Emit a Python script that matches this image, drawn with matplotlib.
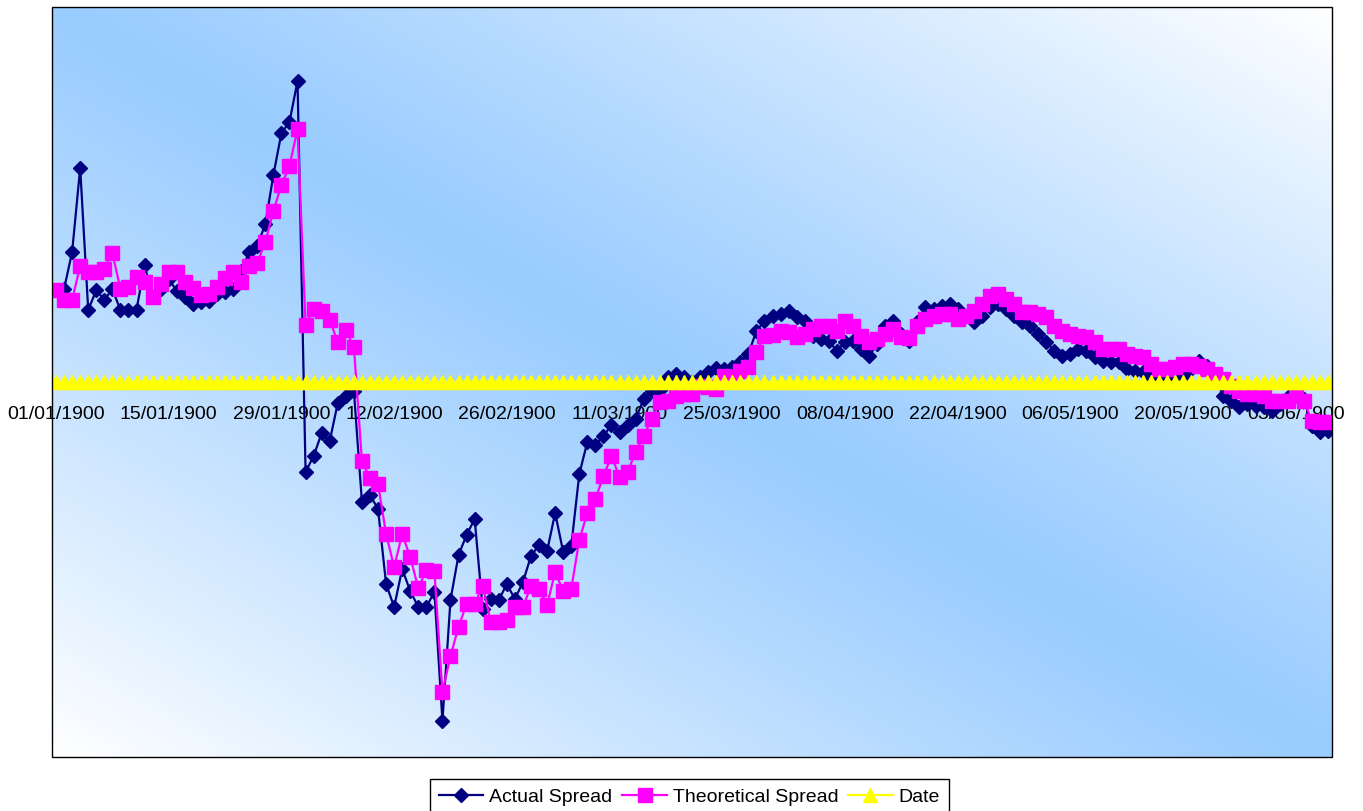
import numpy as np
import matplotlib
matplotlib.use("Agg")
import matplotlib.pyplot as plt
from matplotlib.lines import Line2D
from matplotlib.patches import Rectangle

plt.rcParams['font.family'] = ['Liberation Sans', 'DejaVu Sans']

# daily spread values, first day = 01/01/1900
actual_spread = [
    0.92, 0.93, 1.30, 2.14, 0.72, 0.92, 0.82, 0.93, 0.72, 0.72,
    0.72, 1.17, 0.85, 0.93, 1.03, 0.91, 0.85, 0.78, 0.80, 0.81,
    0.88, 0.90, 0.93, 1.11, 1.30, 1.36, 1.58, 2.07, 2.49, 2.60,
    3.01, -0.90, -0.74, -0.51, -0.59, -0.21, -0.14, -0.09, -1.20, -1.13,
    -1.27, -2.02, -2.25, -1.87, -2.09, -2.25, -2.25, -2.10, -3.39, -2.18,
    -1.73, -1.53, -1.37, -2.27, -2.17, -2.18, -2.02, -2.17, -2.00, -1.74,
    -1.63, -1.69, -1.31, -1.70, -1.64, -0.92, -0.60, -0.63, -0.54, -0.43,
    -0.50, -0.43, -0.37, -0.17, -0.09, -0.08, 0.05, 0.08, 0.05, 0.00,
    0.05, 0.10, 0.14, 0.13, 0.15, 0.20, 0.28, 0.51, 0.61, 0.66,
    0.68, 0.71, 0.65, 0.61, 0.46, 0.43, 0.41, 0.31, 0.40, 0.41,
    0.33, 0.26, 0.38, 0.56, 0.61, 0.48, 0.41, 0.60, 0.75, 0.73,
    0.76, 0.78, 0.73, 0.66, 0.60, 0.66, 0.75, 0.78, 0.73, 0.66,
    0.60, 0.56, 0.48, 0.40, 0.31, 0.26, 0.28, 0.33, 0.31, 0.25,
    0.21, 0.20, 0.20, 0.13, 0.11, 0.10, 0.03, 0.05, 0.05, 0.06,
    0.06, 0.13, 0.21, 0.16, 0.03, -0.14, -0.19, -0.25, -0.22, -0.24,
    -0.25, -0.29, -0.22, -0.15, -0.12, -0.17, -0.44, -0.50, -0.49,
]

theoretical_spread = [
    0.92, 0.82, 0.82, 1.16, 1.10, 1.10, 1.13, 1.29, 0.93, 0.95,
    1.05, 1.00, 0.85, 0.98, 1.10, 1.10, 1.00, 0.94, 0.87, 0.88,
    0.95, 1.04, 1.10, 1.00, 1.16, 1.19, 1.40, 1.71, 1.97, 2.16,
    2.53, 0.57, 0.73, 0.71, 0.62, 0.40, 0.52, 0.35, -0.79, -0.96,
    -1.02, -1.52, -1.85, -1.52, -1.75, -2.06, -1.88, -1.89, -3.10, -2.74,
    -2.45, -2.22, -2.22, -2.04, -2.40, -2.40, -2.38, -2.25, -2.25, -2.04,
    -2.07, -2.23, -1.90, -2.09, -2.07, -1.58, -1.31, -1.17, -0.94, -0.74,
    -0.95, -0.90, -0.70, -0.54, -0.37, -0.20, -0.19, -0.14, -0.12, -0.12,
    -0.04, -0.05, -0.07, 0.06, 0.05, 0.11, 0.15, 0.30, 0.46, 0.47,
    0.51, 0.50, 0.45, 0.48, 0.53, 0.56, 0.56, 0.51, 0.61, 0.56,
    0.46, 0.40, 0.43, 0.48, 0.53, 0.45, 0.44, 0.56, 0.63, 0.66,
    0.68, 0.68, 0.63, 0.66, 0.71, 0.78, 0.86, 0.88, 0.83, 0.78,
    0.70, 0.70, 0.68, 0.65, 0.56, 0.51, 0.48, 0.46, 0.45, 0.40,
    0.33, 0.33, 0.33, 0.28, 0.26, 0.25, 0.18, 0.13, 0.13, 0.15,
    0.18, 0.18, 0.16, 0.13, 0.08, 0.03, -0.04, -0.09, -0.12, -0.12,
    -0.14, -0.19, -0.19, -0.19, -0.14, -0.19, -0.39, -0.40, -0.40,
]

# the Date column shows up as a flat series at zero
date_values = [0.0] * len(actual_spread)

tick_labels = ['01/01/1900', '15/01/1900', '29/01/1900', '12/02/1900',
               '26/02/1900', '11/03/1900', '25/03/1900', '08/04/1900',
               '22/04/1900', '06/05/1900', '20/05/1900', '03/06/1900']
label_step = 14

x = np.arange(len(actual_spread))

fig = plt.figure(figsize=(13.63, 8.12), dpi=100)
ax = fig.add_axes([52 / 1363, 1 - 758 / 812, 1280 / 1363, 750 / 812])

# diagonal blue/white fill behind the plot
gh, gw = 300, 500
gx, gy = np.meshgrid(np.linspace(0, 1, gw), np.linspace(0, 1, gh))
t = np.clip(np.abs(gx - gy), 0, 1)[..., None] ** 1.1
blue = np.array([0x99, 0xCC, 0xFF]) / 255
white = np.array([1.0, 1.0, 1.0])
grad = blue * (1 - t) + white * t
ax.imshow(grad, extent=[0, 1, 0, 1], transform=ax.transAxes,
          aspect='auto', interpolation='bilinear', zorder=0)

navy, magenta, yellow = '#000080', '#FF00FF', '#FFFF00'
ax.plot(x, actual_spread, color=navy, lw=1.6, marker='D', ms=7.2,
        mec=navy, mfc=navy, zorder=3, label='Actual Spread')
ax.plot(x, theoretical_spread, color=magenta, lw=1.6, marker='s', ms=9.8,
        mec=magenta, mfc=magenta, zorder=4, label='Theoretical Spread')
ax.plot(x, date_values, color=yellow, lw=1.6, marker='^', ms=10.5,
        mec=yellow, mfc=yellow, zorder=5, label='Date')

ax.set_xlim(-0.5, len(x) - 0.5)
ax.set_ylim(-3.75, 3.75)

# category axis crosses at zero, plot area gets its own frame
ax.spines['bottom'].set_position(('data', 0))
ax.spines['bottom'].set_zorder(1)
for side in ['top', 'left', 'right']:
    ax.spines[side].set_visible(False)
ax.add_patch(Rectangle((0, 0), 1, 1, transform=ax.transAxes, fill=False,
                       edgecolor='black', lw=1.0, zorder=6, clip_on=False))

ax.set_xticks(x[::label_step])
ax.set_xticklabels(tick_labels, fontsize=14)
ax.tick_params(axis='x', length=0, pad=16.5)
ax.set_yticks([])

handles = [
    Line2D([], [], color=navy, lw=1.6, marker='D', ms=7.2),
    Line2D([], [], color=magenta, lw=1.6, marker='s', ms=9.8),
    Line2D([], [], color=yellow, lw=1.6, marker='^', ms=10.5),
]
leg = fig.legend(handles, ['Actual Spread', 'Theoretical Spread', 'Date'],
                 loc='upper left', bbox_to_anchor=(430 / 1363, 1 - 780 / 812),
                 ncol=3, fontsize=14, frameon=True, fancybox=False,
                 edgecolor='black', framealpha=1, borderaxespad=0,
                 handlelength=2.3, handletextpad=0.3, columnspacing=0.5,
                 borderpad=0.45)
leg.get_frame().set_linewidth(1.0)

fig.savefig('out.png', dpi=100)
